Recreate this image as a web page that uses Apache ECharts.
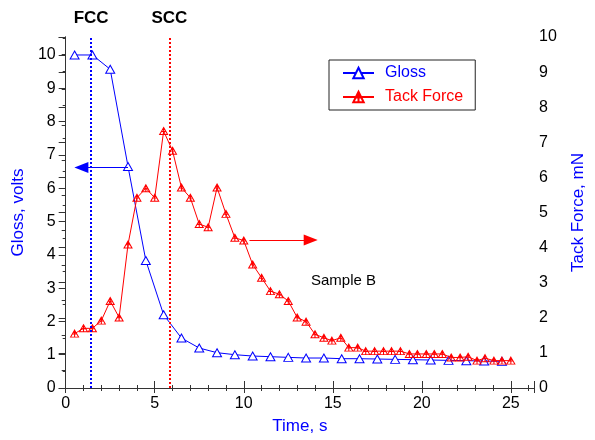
<!DOCTYPE html>
<html><head><meta charset="utf-8">
<script src="https://cdn.jsdelivr.net/npm/echarts@6/dist/echarts.min.js"></script>
<style>html,body{margin:0;padding:0;background:#fff}#c{width:595px;height:440px}</style>
</head><body><div id="c"></div>
<script>
const glossTime = [0.5,1.5,2.5,3.5,4.5,5.5,6.5,7.5,8.5,9.5,10.5,11.5,12.5,13.5,14.5,15.5,16.5,17.5,18.5,19.5,20.5,21.5,22.5,23.5,24.5];
const glossValues = [10.0,10.0,9.57,6.65,3.83,2.2,1.5,1.2,1.06,1.0,0.96,0.94,0.92,0.9,0.9,0.88,0.88,0.87,0.86,0.85,0.84,0.83,0.82,0.81,0.8];
const tackTime = [0.5,1.0,1.5,2.0,2.5,3.0,3.5,4.0,4.5,5.0,5.5,6.0,6.5,7.0,7.5,8.0,8.5,9.0,9.5,10.0,10.5,11.0,11.5,12.0,12.5,13.0,
  13.5,14.0,14.5,14.95,15.45,15.9,16.4,16.85,17.35,17.85,18.3,18.8,19.3,19.75,20.25,20.7,21.15,21.65,22.15,22.6,23.1,23.55,24.05,24.5,25.0];
const tackValues = [1.55,1.70,1.70,1.92,2.48,2.01,4.09,5.42,5.69,5.42,7.32,6.76,5.71,5.42,4.67,4.58,5.71,4.96,4.28,4.20,3.52,3.14,2.76,2.67,2.48,2.01,
  1.89,1.53,1.43,1.35,1.43,1.15,1.15,1.05,1.05,1.05,1.05,1.05,0.97,0.97,0.97,0.97,0.97,0.87,0.87,0.89,0.78,0.85,0.78,0.78,0.78];
const xTickLabels = [0,5,10,15,20,25];
const fccTime = 1.43, sccTime = 5.82;
const glossArrow = {from:[3.5,6.62], to:[0.88,6.62]};
const tackArrow = {from:[10.32,4.22], to:[13.76,4.22]};

const FONT = '"Liberation Sans", Arial, sans-serif';
const BLUE = '#0000ff', RED = '#ff0000', AX = '#333';
const tackSymbol = 'path://M5,0 L10,9 L0,9 Z M5,0 L5,9 M2.2,5 L7.8,5';

const chart = echarts.init(document.getElementById('c'), null, {renderer:'canvas'});
const axisLine = {show:true, lineStyle:{color:AX, width:1}};
chart.setOption({
  animation:false,
  backgroundColor:'#fff',
  textStyle:{fontFamily:FONT},
  grid:{left:65.7, right:47, top:37, bottom:51.7, containLabel:false},
  legend:{
    left:329, top:60, orient:'vertical',
    borderColor:'#222', borderWidth:1, padding:[5,12,5,13],
    itemWidth:31, itemHeight:13, itemGap:8,
    textStyle:{fontSize:16, fontFamily:FONT, padding:[0,0,0,6]},
    data:[{name:'Gloss', textStyle:{color:BLUE}}, {name:'Tack Force', textStyle:{color:RED}}]
  },
  xAxis:[{
    type:'value', min:0, max:26.3, interval:5, position:'bottom',
    name:'Time, s', nameLocation:'middle', nameGap:30,
    nameTextStyle:{color:BLUE, fontSize:17, fontFamily:FONT},
    axisLine:axisLine,
    axisTick:{show:true, length:5, lineStyle:{color:AX}},
    minorTick:{show:true, splitNumber:5, length:3, lineStyle:{color:AX}},
    splitLine:{show:false},
    axisLabel:{color:'#000', fontSize:16, margin:8, fontFamily:FONT,
      formatter:v => xTickLabels.includes(v) ? String(v) : '', showMaxLabel:false}
  },{
    type:'value', min:0, max:26.3, interval:5, position:'top',
    axisLine:axisLine,
    axisTick:{show:true, length:7, lineStyle:{color:AX}},
    minorTick:{show:true, splitNumber:5, length:3, lineStyle:{color:AX}},
    splitLine:{show:false}, axisLabel:{show:false}
  }],
  yAxis:[{
    type:'value', min:0, max:10.54, interval:1, position:'left',
    name:'Gloss, volts', nameLocation:'middle', nameGap:34, nameRotate:90,
    nameTextStyle:{color:BLUE, fontSize:17, fontFamily:FONT},
    axisLine:axisLine,
    axisTick:{show:true, length:7, lineStyle:{color:AX}},
    minorTick:{show:true, splitNumber:2, length:3, lineStyle:{color:AX}},
    splitLine:{show:false},
    axisLabel:{color:'#000', fontSize:16, margin:10, fontFamily:FONT,
      formatter:v => Number.isInteger(v) ? String(v) : '', showMaxLabel:false}
  },{
    type:'value', min:0, max:10, interval:1, position:'right',
    name:'Tack Force, mN', nameLocation:'middle', nameGap:36, nameRotate:90,
    nameTextStyle:{color:BLUE, fontSize:17, fontFamily:FONT},
    axisLine:axisLine,
    axisTick:{show:true, inside:true, length:7, lineStyle:{color:AX}},
    minorTick:{show:true, splitNumber:2, length:4, lineStyle:{color:AX}},
    splitLine:{show:false},
    axisLabel:{color:'#000', fontSize:16, margin:5, fontFamily:FONT}
  }],
  series:[{
    name:'Gloss', type:'line', xAxisIndex:0, yAxisIndex:0,
    data:glossTime.map((t,i)=>[t, glossValues[i]]),
    symbol:'triangle', symbolSize:[9,8], showAllSymbol:true,
    lineStyle:{color:BLUE, width:1},
    itemStyle:{color:'#fff', borderColor:BLUE, borderWidth:1},
    z:2,
    markLine:{
      silent:true, animation:false, symbol:['none','none'],
      data:[
        {xAxis:fccTime, lineStyle:{color:BLUE, type:'dotted', width:2},
          label:{show:true, position:'end', formatter:'FCC', color:'#000', fontSize:17, fontWeight:'bold', distance:10, fontFamily:FONT}},
        [{coord:glossArrow.from, symbol:'none', lineStyle:{color:BLUE, type:'solid', width:1}, label:{show:false}},
         {coord:glossArrow.to, symbol:'triangle', symbolSize:[11,14]}]
      ]
    }
  },{
    name:'Tack Force', type:'line', xAxisIndex:0, yAxisIndex:1,
    data:tackTime.map((t,i)=>[t, tackValues[i]]),
    symbol:tackSymbol, symbolSize:[8,7], showAllSymbol:true,
    lineStyle:{color:RED, width:1},
    itemStyle:{color:'transparent', borderColor:RED, borderWidth:1},
    z:3,
    markLine:{
      silent:true, animation:false, symbol:['none','none'],
      data:[
        {xAxis:sccTime, lineStyle:{color:RED, type:'dotted', width:2},
          label:{show:true, position:'end', formatter:'SCC', color:'#000', fontSize:17, fontWeight:'bold', distance:10, fontFamily:FONT}},
        [{coord:tackArrow.from, symbol:'none', lineStyle:{color:RED, type:'solid', width:1}, label:{show:false}},
         {coord:tackArrow.to, symbol:'triangle', symbolSize:[11,14]}]
      ]
    }
  }],
  graphic:[{type:'text', left:311, top:273, style:{text:'Sample B', fill:'#000', font:'15px "Liberation Sans", Arial, sans-serif'}}]
});
</script></body></html>
